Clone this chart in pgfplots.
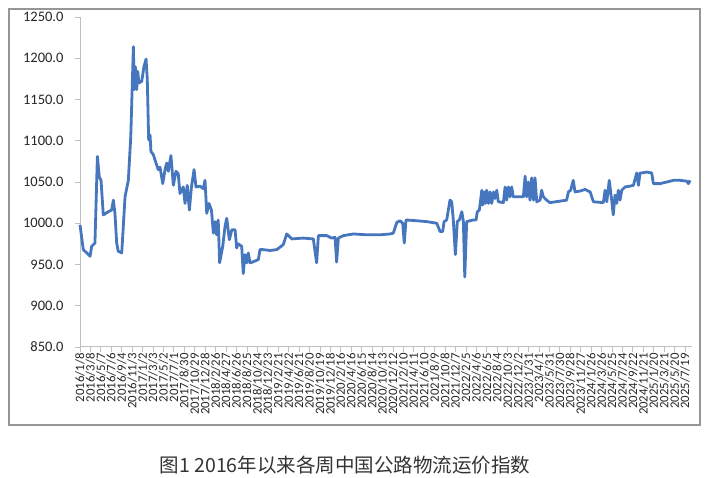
\documentclass[border=0pt]{standalone}
\usepackage{pgfplots}
\pgfplotsset{compat=1.18}
\usepackage{fontspec}
\setmainfont{Carlito}
\newfontfamily\cjk{Noto Sans CJK SC}
\definecolor{lineblue}{RGB}{70,118,190}
\definecolor{axgray}{RGB}{191,191,191}
\definecolor{frame}{RGB}{150,150,150}
\begin{document}
\begin{tikzpicture}[x=1bp,y=1bp]
\useasboundingbox (0,0) rectangle (708,478);
\draw[frame, line width=1.2bp] (9,53) rectangle (700,469);
\begin{axis}[
  at={(80bp,131bp)}, anchor=south west,
  scale only axis, width=612bp, height=330bp,
  xmin=0, xmax=3520, ymin=850, ymax=1250,
  axis x line*=bottom, axis y line*=left,
  axis line style={axgray, line width=1bp, -},
  tick align=outside, major tick length=5bp,
  tick style={axgray, line width=0.8bp},
  ytick={850,900,...,1250},
  xtick={0,60,...,3480},
  xticklabels={2016/1/8,2016/3/8,2016/5/7,2016/7/6,2016/9/4,2016/11/3,
    2017/1/2,2017/3/3,2017/5/2,2017/7/1,2017/8/30,2017/10/29,2017/12/28,
    2018/2/26,2018/4/27,2018/6/26,2018/8/25,2018/10/24,2018/12/23,
    2019/2/21,2019/4/22,2019/6/21,2019/8/20,2019/10/19,2019/12/18,
    2020/2/16,2020/4/16,2020/6/15,2020/8/14,2020/10/13,2020/12/12,
    2021/2/10,2021/4/11,2021/6/10,2021/8/9,2021/10/8,2021/12/7,
    2022/2/5,2022/4/6,2022/6/5,2022/8/4,2022/10/3,2022/12/2,
    2023/1/31,2023/4/1,2023/5/31,2023/7/30,2023/9/28,2023/11/27,
    2024/1/26,2024/3/26,2024/5/25,2024/7/24,2024/9/22,2024/11/21,
    2025/1/20,2025/3/21,2025/5/20,2025/7/19},
  xticklabel style={rotate=90, anchor=east, font=\fontsize{12.8bp}{13bp}\selectfont, text=black!85, inner sep=1bp},
  yticklabel style={font=\fontsize{14.5bp}{15bp}\selectfont, text=black!85, xshift=-8bp},
  yticklabel={\pgfmathprintnumber[fixed,zerofill,precision=1,1000 sep={},assume math mode=true]{\tick}},
  clip=false,
]
\addplot[lineblue, line width=2.8bp, line join=round] coordinates {
(0,998)(19,968)(39,964)(58,960)(67,972)(86,976)(100,1081)(111,1056)(121,1052)
(134,1010)(163,1014)(182,1016)(192,1028)(201,1012)(211,976)(220,966)(240,964)
(249,996)(259,1032)(278,1052)(292,1105)(307,1214)(312,1162)(318,1190)(326,1162)
(332,1184)(339,1170)(355,1172)(368,1190)(380,1199)(387,1174)(395,1101)(403,1107)
(408,1087)(422,1083)(437,1073)(450,1065)(460,1068)(476,1048)(489,1065)(499,1073)
(508,1063)(523,1082)(537,1046)(552,1063)(565,1060)(575,1036)(594,1044)(604,1024)
(617,1046)(629,1016)(641,1044)(656,1065)(667,1044)(690,1045)(709,1042)(719,1052)
(729,1012)(742,1024)(756,1016)(767,988)(777,1002)(786,986)(795,1004)(803,952)
(821,972)(834,996)(844,1006)(859,980)(873,992)(892,992)(901,970)(910,975)
(930,972)(939,939)(949,962)(959,952)(968,964)(978,952)(993,953)(1026,956)
(1035,968)(1054,968)(1093,967)(1131,968)(1169,974)(1189,987)(1218,981)(1284,982)
(1342,981)(1361,952)(1371,985)(1419,985)(1448,982)(1467,983)(1476,953)(1486,982)
(1515,985)(1572,987)(1649,986)(1726,986)(1783,987)(1802,988)(1822,1001)(1841,1003)
(1856,1000)(1865,976)(1875,1004)(1937,1003)(1994,1002)(2052,1000)(2071,990)(2086,990)
(2094,1002)(2109,1004)(2128,1028)(2138,1026)(2147,1004)(2159,962)(2170,1002)(2182,1004)
(2196,1014)(2205,1002)(2213,935)(2224,1002)(2262,1004)(2278,1004)(2285,1014)(2297,1016)
(2311,1040)(2316,1022)(2324,1038)(2331,1024)(2339,1040)(2349,1024)(2358,1038)(2368,1024)
(2378,1038)(2387,1030)(2397,1040)(2406,1026)(2435,1025)(2445,1044)(2454,1028)(2464,1044)
(2473,1032)(2483,1044)(2492,1032)(2550,1032)(2560,1057)(2569,1032)(2579,1050)(2588,1028)
(2598,1055)(2608,1028)(2617,1055)(2627,1026)(2646,1028)(2655,1040)(2665,1032)(2684,1028)
(2703,1025)(2799,1028)(2809,1038)(2822,1040)(2837,1052)(2847,1038)(2876,1039)(2905,1041)
(2934,1038)(2953,1026)(3010,1025)(3020,1040)(3030,1026)(3044,1052)(3058,1028)(3067,1010)
(3077,1034)(3087,1024)(3096,1040)(3106,1028)(3116,1040)(3135,1044)(3164,1045)(3183,1046)
(3202,1061)(3212,1046)(3221,1061)(3231,1061)(3260,1062)(3288,1061)(3298,1048)(3336,1048)
(3375,1050)(3413,1052)(3451,1052)(3490,1051)(3499,1048)(3509,1052)
};
\end{axis}
\node[font=\cjk\fontsize{19.5bp}{21bp}\selectfont, text=black!80] at (345,13) {图1 2016年以来各周中国公路物流运价指数};
\end{tikzpicture}
\end{document}
